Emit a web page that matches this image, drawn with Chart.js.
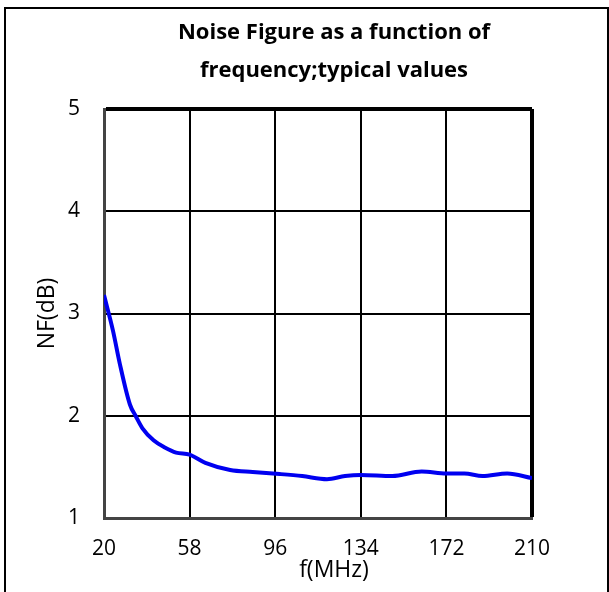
<!DOCTYPE html>
<html>
<head>
<meta charset="utf-8">
<script src="https://cdn.jsdelivr.net/npm/chart.js@4"></script>
<style>
    html, body { margin: 0; padding: 0; background: #fff; }
    #wrap { position: relative; width: 609px; height: 592px; overflow: hidden; }
    #frame {
        position: absolute; left: 4px; top: 7px; width: 601px; height: 600px;
        border-left: 2px solid #000; border-top: 2px solid #000; border-right: 2px solid #000;
        pointer-events: none;
    }
    canvas { position: absolute; left: 0; top: 0; }
</style>
</head>
<body>
<div id="wrap">
    <canvas id="nfChart" width="609" height="592"></canvas>
    <div id="frame"></div>
</div>
<script>
// values
const freqMHz = [20, 24, 27, 31.5, 34, 37, 42, 47, 52, 58, 65, 76, 86, 98, 108, 119, 127, 134, 148, 161, 172, 180, 188, 199, 210];
const noiseFigure = [3.18, 2.83, 2.51, 2.11, 2.0, 1.88, 1.76, 1.69, 1.64, 1.62, 1.54, 1.47, 1.45, 1.43, 1.41, 1.38, 1.41, 1.42, 1.41, 1.455, 1.435, 1.435, 1.41, 1.435, 1.39];
const xTicks = [20, 58, 96, 134, 172, 210];
const yTicks = [1, 2, 3, 4, 5];
const titleLines = ['Noise Figure as a function of', 'frequency;typical values'];
const xTitle = 'f(MHz)';
const yTitle = 'NF(dB)';

Chart.defaults.font.family = '"Open Sans", sans-serif';
Chart.defaults.color = '#000';

/**
 * Title and x label sit a little right of the plot centre in the original
 */
const freeLabels = {
    id: 'freeLabels',
    afterDraw(chart) {
        const { ctx, chartArea } = chart;
        const cx = (chartArea.left + chartArea.right) / 2 + 16;
        ctx.save();
        ctx.fillStyle = '#000';
        ctx.textAlign = 'center';
        ctx.textBaseline = 'alphabetic';
        ctx.font = 'bold 22px "Open Sans"';
        titleLines.forEach((line, i) => ctx.fillText(line, cx, 39 + i * 38));
        ctx.font = '23px "Open Sans"';
        ctx.fillText(xTitle, cx, 577);
        ctx.restore();
    }
};

const edgeWidth = (max) => (c) => (c.tick && c.tick.value === max ? 4 : 2);

new Chart(document.getElementById('nfChart').getContext('2d'), {
    type: 'line',
    data: {
        datasets: [{
            data: freqMHz.map((f, i) => ({ x: f, y: noiseFigure[i] })),
            borderColor: '#0000f0',
            borderWidth: 4,
            pointRadius: 0,
            cubicInterpolationMode: 'monotone',
            fill: false
        }]
    },
    options: {
        responsive: false,
        animation: false,
        layout: { padding: { left: 30, right: 77, top: 109, bottom: 0 } },
        plugins: {
            legend: { display: false },
            title: { display: false },
            tooltip: { enabled: false }
        },
        scales: {
            x: {
                type: 'linear',
                min: 20,
                max: 210,
                afterBuildTicks: (scale) => { scale.ticks = xTicks.map(v => ({ value: v })); },
                afterFit: (scale) => { scale.height = 74; },
                ticks: { font: { size: 21 }, padding: 18, maxRotation: 0 },
                grid: { color: '#000', lineWidth: edgeWidth(210), drawTicks: false },
                border: { display: true, color: '#444', width: 3 }
            },
            y: {
                min: 1,
                max: 5,
                afterBuildTicks: (scale) => { scale.ticks = yTicks.map(v => ({ value: v })); },
                afterFit: (scale) => { scale.width = 74; },
                ticks: { font: { size: 21 }, padding: 24 },
                grid: { color: '#000', lineWidth: edgeWidth(5), drawTicks: false },
                border: { display: true, color: '#444', width: 3 },
                title: { display: true, text: yTitle, font: { size: 23 }, padding: { top: 4, bottom: 0 } }
            }
        }
    },
    plugins: [freeLabels]
});
</script>
</body>
</html>
